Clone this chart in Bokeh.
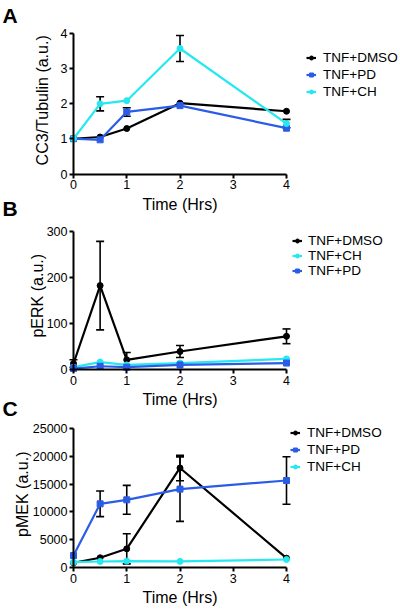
import math
from bokeh.plotting import figure
from bokeh.layouts import column
from bokeh.models import (Range1d, FixedTicker, ColumnDataSource, Whisker, TeeHead,
                          Legend, LegendItem, Label)
from bokeh.embed import file_html
from bokeh.resources import INLINE

# ---------------- data ----------------
time = [0, 0.5, 1, 2, 4]
x_ticks = [0, 1, 2, 3, 4]

# Panel A : CC3/Tubulin
cc3_dmso = [1.0, 1.05, 1.29, 2.01, 1.78]
cc3_dmso_err = [0, 0, 0, 0, 0]
cc3_pd = [1.0, 0.97, 1.76, 1.94, 1.30]
cc3_pd_err = [0, 0, 0.12, 0, 0]
cc3_ch = [1.0, 1.99, 2.08, 3.56, 1.43]
cc3_ch_err = [0, 0.2, 0, 0.37, 0.12]
cc3_ticks = [0, 1, 2, 3, 4]

# Panel B : pERK
perk_dmso = [13, 182, 21, 39, 72]
perk_dmso_err = [8, 96, 16, 13, 16]
perk_ch = [5, 16, 10, 14, 23]
perk_ch_err = [0, 0, 0, 0, 0]
perk_pd = [2, 7, 5, 10, 14]
perk_pd_err = [0, 0, 0, 0, 0]
perk_ticks = [0, 100, 200, 300]

# Panel C : pMEK
pmek_dmso = [850, 1750, 3360, 17900, 1680]
pmek_dmso_err = [0, 0, 2700, 2300, 0]
pmek_pd = [2160, 11450, 12170, 14100, 15650]
pmek_pd_err = [0, 2300, 2600, 5800, 4270]
pmek_ch = [950, 1080, 1150, 1100, 1440]
pmek_ch_err = [0, 0, 0, 0, 0]
pmek_ticks = [0, 5000, 10000, 15000, 20000, 25000]

BLACK = "#000000"
BLUE = "#2b5ce6"
CYAN = "#25e8f0"
FONT = "Liberation Sans"

W = 400
X0_PX, X4_PX = 73.0, 286.0  # pixel positions of x=0 and x=4


def make_panel(series, yticks, height, y0_px, ytop_px, ytitle, ytitle_x, ytitle_y,
               legend_loc, row_h, standoff):
    xs = (X4_PX - X0_PX) / 4.0
    ytop = yticks[-1]
    ys = (y0_px - ytop_px) / ytop
    x_range = Range1d(-X0_PX / xs, 4 + (W - X4_PX) / xs)
    y_range = Range1d(-(height - y0_px) / ys, ytop + ytop_px / ys)
    p = figure(width=W, height=height, x_range=x_range, y_range=y_range,
               output_backend="svg", toolbar_location=None,
               min_border_left=0, min_border_right=0,
               min_border_top=0, min_border_bottom=0)
    p.grid.visible = False
    p.outline_line_color = None
    p.background_fill_color = "white"
    p.border_fill_color = "white"

    for ax, ticks, bnd in ((p.xaxis[0], x_ticks, (0, 4)), (p.yaxis[0], yticks, (yticks[0], yticks[-1]))):
        ax.fixed_location = 0
        ax.bounds = bnd
        ax.ticker = FixedTicker(ticks=ticks)
        ax.axis_line_width = 2
        ax.axis_line_color = "black"
        ax.major_tick_line_width = 2
        ax.major_tick_line_color = "black"
        ax.major_tick_in = 0
        ax.major_tick_out = 4
        ax.minor_tick_line_color = None
        ax.major_label_text_font = FONT
        ax.major_label_text_font_size = "12.5px"
        ax.major_label_text_color = "black"
        ax.major_label_standoff = 2

    p.xaxis.axis_label = "Time (Hrs)"
    p.xaxis.axis_label_text_font = FONT
    p.xaxis.axis_label_text_font_size = "16px"
    p.xaxis.axis_label_text_font_style = "normal"
    p.xaxis.axis_label_text_color = "black"
    p.xaxis.axis_label_standoff = 3

    p.add_layout(Label(x=ytitle_x, y=ytitle_y, x_units="screen", y_units="data",
                       text=ytitle, angle=math.pi / 2, text_align="center",
                       text_baseline="middle", text_font=FONT,
                       text_font_size="16px", text_color="black"))

    items = []
    for name, vals, errs, color, marker in series:
        src = ColumnDataSource(dict(x=time, y=vals))
        ln = p.line("x", "y", source=src, line_color=color, line_width=2.2)
        sc = p.scatter("x", "y", source=src, marker=marker, size=6,
                       fill_color=color, line_color=color)
        ex = [t for t, e in zip(time, errs) if e > 0]
        if ex:
            up = [v + e for v, e in zip(vals, errs) if e > 0]
            lo = [v - e for v, e in zip(vals, errs) if e > 0]
            wsrc = ColumnDataSource(dict(base=ex, upper=up, lower=lo))
            p.add_layout(Whisker(base="base", upper="upper", lower="lower", source=wsrc,
                                 line_color="black", line_width=1.6,
                                 upper_head=TeeHead(size=8, line_color="black", line_width=1.6),
                                 lower_head=TeeHead(size=8, line_color="black", line_width=1.6)))
        items.append(LegendItem(label=name, renderers=[ln, sc]))

    legend = Legend(items=items, location=legend_loc, orientation="vertical",
                    border_line_color=None, background_fill_alpha=0,
                    padding=0, margin=0, spacing=0,
                    glyph_width=10, glyph_height=row_h, label_height=row_h,
                    label_standoff=standoff, label_text_font=FONT,
                    label_text_font_size="13.5px", label_text_color="black")
    p.add_layout(legend)
    return p


def letter(p, txt, x, y):
    p.add_layout(Label(x=x, y=y, x_units="screen", y_units="screen", text=txt,
                       text_align="left", text_baseline="middle",
                       text_font=FONT, text_font_size="21px",
                       text_font_style="bold", text_color="black"))


pa = make_panel(
    [("TNF+DMSO", cc3_dmso, cc3_dmso_err, BLACK, "circle"),
     ("TNF+PD", cc3_pd, cc3_pd_err, BLUE, "square"),
     ("TNF+CH", cc3_ch, cc3_ch_err, CYAN, "circle")],
    cc3_ticks, 220, 173.5, 32.5, "CC3/Tubulin (a.u.)", 41.5, 2.09,
    (306, 120), 17, 7)

pb = make_panel(
    [("TNF+DMSO", perk_dmso, perk_dmso_err, BLACK, "circle"),
     ("TNF+CH", perk_ch, perk_ch_err, CYAN, "circle"),
     ("TNF+PD", perk_pd, perk_pd_err, BLUE, "square")],
    perk_ticks, 199, 149, 10.7, "pERK (a.u.)", 36.5, 160,
    (292, 141), 15, 6)

pc = make_panel(
    [("TNF+DMSO", pmek_dmso, pmek_dmso_err, BLACK, "circle"),
     ("TNF+PD", pmek_pd, pmek_pd_err, BLUE, "square"),
     ("TNF+CH", pmek_ch, pmek_ch_err, CYAN, "circle")],
    pmek_ticks, 191, 148, 9, "pMEK (a.u.)", 21.5, 13180,
    (290, 135), 17, 7)

letter(pa, "A", 2, 205)
letter(pa, "B", 2, 12)
letter(pb, "C", 2, 11)

layout = column(pa, pb, pc, spacing=0)
open("out.html", "w").write(file_html(layout, INLINE))
